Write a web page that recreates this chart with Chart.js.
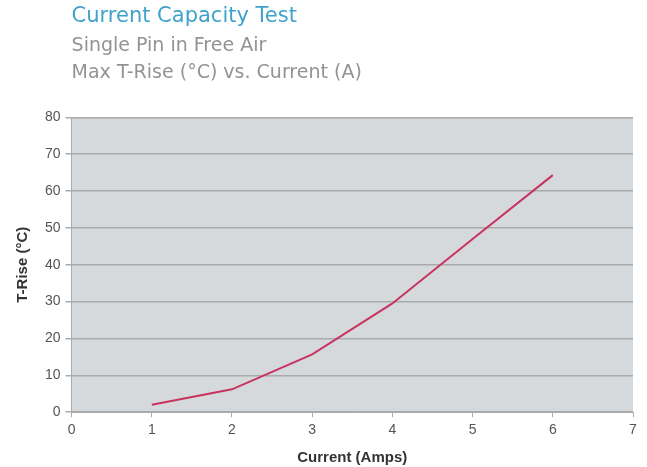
<!DOCTYPE html>
<html>
<head>
<meta charset="utf-8">
<script src="https://cdn.jsdelivr.net/npm/chart.js@4"></script>
<style>
  html, body { margin: 0; padding: 0; background: #fff; }
  #wrap { width: 647px; height: 467px; }
</style>
</head>
<body>
<div id="wrap"><canvas id="chart1"></canvas></div>
<script>
// data
const currentAmps = [1, 2, 3, 4, 5, 6];
const tRise = [2.0, 6.2, 15.7, 29.5, 47.0, 64.3];
const titleText = 'Current Capacity Test';
const subtitleLines = ['Single Pin in Free Air', 'Max T-Rise (°C) vs. Current (A)'];

// grey fill behind the plot area
const plotBackground = {
    id: 'plotBackground',
    beforeDraw(chart) {
        const { ctx, chartArea } = chart;
        ctx.save();
        ctx.fillStyle = '#d6d9db';
        ctx.fillRect(chartArea.left, chartArea.top, chartArea.right - chartArea.left, chartArea.bottom - chartArea.top);
        ctx.restore();
    }
};

const ctx = document.getElementById('chart1').getContext('2d');
new Chart(ctx, {
    type: 'line',
    data: {
        datasets: [{
            label: 'T-Rise',
            data: currentAmps.map((x, i) => ({ x: x, y: tRise[i] })),
            borderColor: '#c8345e',
            borderWidth: 2,
            pointRadius: 0,
            tension: 0,
        }],
    },
    options: {
        responsive: true,
        maintainAspectRatio: false,
        animation: false,
        layout: { padding: { left: 14, right: 14, top: 3, bottom: 0 } },
        plugins: {
            legend: { display: false },
            tooltip: { enabled: false },
            title: {
                display: true,
                text: titleText,
                align: 'start',
                fullSize: false,
                color: '#3fa2cb',
                font: { family: 'DejaVu Sans', size: 21, weight: 'normal', lineHeight: 1.3 },
                padding: { top: 0, bottom: 2 },
            },
            subtitle: {
                display: true,
                text: subtitleLines,
                align: 'start',
                fullSize: false,
                color: '#939393',
                font: { family: 'DejaVu Sans', size: 19, weight: 'normal', lineHeight: 1.42 },
                padding: { top: 0, bottom: 31 },
            },
        },
        scales: {
            x: {
                type: 'linear',
                min: 0,
                max: 7,
                ticks: { stepSize: 1, color: '#555', font: { family: 'Arial', size: 14 }, padding: 5 },
                grid: { drawOnChartArea: false, color: '#aaa', tickLength: 5 },
                border: { color: '#aaa' },
                title: {
                    display: true,
                    text: 'Current (Amps)',
                    color: '#333',
                    font: { family: 'Arial', size: 15, weight: 'bold' },
                    padding: { top: 5, bottom: 0 },
                },
            },
            y: {
                min: 0,
                max: 80,
                ticks: { stepSize: 10, color: '#555', font: { family: 'Arial', size: 14 }, padding: 5 },
                grid: { color: '#a8aaac', lineWidth: 1.5, tickLength: 6 },
                border: { color: '#aaa' },
                title: {
                    display: true,
                    text: 'T-Rise (°C)',
                    color: '#333',
                    font: { family: 'Arial', size: 15, weight: 'bold' },
                    padding: { top: 0, bottom: 8 },
                },
            },
        },
    },
    plugins: [plotBackground],
});
</script>
</body>
</html>
